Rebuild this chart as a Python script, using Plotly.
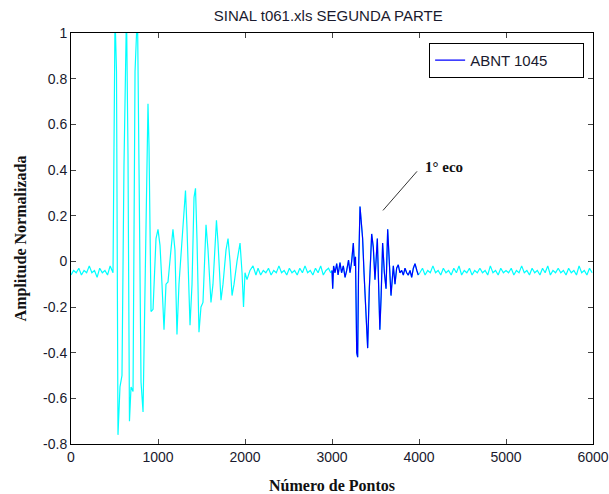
import plotly.graph_objects as go

# ---- data (sample index, normalized amplitude) ----
pre_x = [0, 30, 60, 90, 120, 150, 180, 210, 240, 270, 300, 330, 360, 390, 420, 450]
pre_y = [-0.06, -0.04, -0.05, -0.03, -0.06, -0.04, -0.05, -0.02, -0.05, -0.04,
         -0.07, -0.03, -0.05, -0.04, -0.06, -0.02]

burst_x = [483, 506, 523, 540, 563, 586, 609, 638, 655, 672, 690, 713, 736, 764, 782,
           805, 828, 862, 885, 897, 920, 943, 977, 1000, 1023, 1046, 1069, 1092, 1115,
           1149, 1172, 1195, 1218, 1241, 1276, 1299, 1316, 1333, 1368, 1391, 1414, 1431,
           1448, 1471, 1494, 1517, 1540, 1552, 1575, 1609, 1632, 1655, 1672, 1690, 1724,
           1747, 1782, 1805, 1828, 1851, 1874, 1908, 1943, 1966, 1983, 2000, 2023, 2057,
           2092, 2126]
burst_y = [-0.05, 1.08, 0.83, -0.76, -0.55, -0.50, 0.42, 1.10, 0.47, -0.70, -0.55, -0.57,
           0.83, 1.10, 0.40, -0.53, -0.66, 0.27, 0.69, 0.50, -0.22, -0.21, 0.10, 0.14,
           0.07, -0.10, -0.30, -0.10, -0.09, 0.05, 0.14, 0.05, -0.32, -0.10, 0.08, 0.23,
           0.31, 0.15, -0.28, -0.10, 0.28, 0.32, 0.10, -0.31, -0.20, -0.18, 0.10, 0.16,
           0.05, -0.18, -0.10, 0.10, 0.18, 0.08, -0.17, -0.10, 0.05, 0.10, 0.00, -0.15,
           -0.10, 0.00, 0.08, -0.05, -0.20, -0.05, -0.08, -0.04, -0.02, -0.06]

mid_x = [2150, 2180, 2210, 2240, 2270, 2300, 2330, 2360, 2390, 2420, 2450, 2480, 2510,
         2540, 2570, 2600, 2630, 2660, 2690, 2720, 2750, 2780, 2810, 2840, 2870, 2900,
         2930, 2960, 2985]
mid_y = [-0.03, -0.06, -0.04, -0.05, -0.03, -0.06, -0.04, -0.05, -0.02, -0.05, -0.04,
         -0.06, -0.03, -0.05, -0.04, -0.06, -0.03, -0.05, -0.02, -0.05, -0.04, -0.06,
         -0.03, -0.05, -0.02, -0.06, -0.04, -0.03, -0.05]

echo_x = [3000, 3008, 3018, 3035, 3054, 3070, 3092, 3110, 3130, 3150, 3169, 3190, 3207,
          3226, 3245, 3258, 3270, 3284, 3295, 3305, 3322, 3335, 3352, 3368, 3385, 3410,
          3429, 3456, 3475, 3494, 3521, 3535, 3550, 3565, 3582, 3602, 3621, 3640, 3659,
          3678, 3705, 3724, 3743, 3762, 3780, 3801, 3820, 3839, 3858, 3877, 3897, 3916,
          3935, 3954, 3975, 3992]
echo_y = [-0.04, -0.12, -0.02, -0.05, -0.01, -0.06, -0.005, -0.05, -0.02, -0.07, -0.04,
          0.005, -0.05, 0.00, 0.08, -0.02, 0.02, -0.40, -0.42, -0.05, 0.24, 0.18, 0.10,
          -0.05, -0.20, -0.38, -0.12, 0.12, 0.06, -0.08, 0.10, -0.05, -0.30, -0.15, 0.08,
          -0.05, -0.12, 0.14, -0.04, -0.15, -0.02, -0.10, -0.03, -0.015, -0.05, -0.04,
          -0.06, -0.03, -0.05, -0.06, -0.04, -0.07, -0.03, -0.01, -0.04, -0.06]

post_x = [4010, 4040, 4070, 4100, 4130, 4160, 4190, 4220, 4250, 4280,
          4310, 4340, 4370, 4400, 4430, 4460, 4490, 4520, 4550, 4580,
          4610, 4640, 4670, 4700, 4730, 4760, 4790, 4820, 4850, 4880,
          4910, 4940, 4970, 5000, 5030, 5060, 5090, 5120, 5150, 5180,
          5210, 5240, 5270, 5300, 5330, 5360, 5390, 5420, 5450, 5480,
          5510, 5540, 5570, 5600, 5630, 5660, 5690, 5720, 5750, 5780,
          5810, 5840, 5870, 5900, 5930, 5960, 5990]
post_y = [-0.05, -0.03, -0.06, -0.04, -0.05, -0.02, -0.05, -0.04, -0.06, -0.03,
          -0.05, -0.04, -0.06, -0.03, -0.05, -0.02, -0.06, -0.04, -0.05, -0.03,
          -0.06, -0.04, -0.05, -0.03, -0.05, -0.04, -0.06, -0.02, -0.05, -0.04,
          -0.06, -0.03, -0.05, -0.04, -0.05, -0.03, -0.06, -0.04, -0.05, -0.02,
          -0.05, -0.04, -0.06, -0.03, -0.05, -0.04, -0.06, -0.03, -0.05, -0.02,
          -0.06, -0.04, -0.05, -0.03, -0.05, -0.04, -0.06, -0.03, -0.05, -0.04,
          -0.06, -0.02, -0.05, -0.04, -0.06, -0.03, -0.05]

x_ticks = [0, 1000, 2000, 3000, 4000, 5000, 6000]
y_ticks = [-0.8, -0.6, -0.4, -0.2, 0, 0.2, 0.4, 0.6, 0.8, 1]
y_tick_text = ["-0.8", "-0.6", "-0.4", "-0.2", "0", "0.2", "0.4", "0.6", "0.8", "1"]

title_text = "SINAL t061.xls SEGUNDA PARTE"
legend_name = "ABNT 1045"
echo_label = "1° eco"
echo_arrow_from = (3586, 0.223)
echo_arrow_to = (3977, 0.394)
echo_text_pos = (4287, 0.415)

full_x = pre_x + burst_x + mid_x + echo_x + post_x
full_y = pre_y + burst_y + mid_y + echo_y + post_y

fig = go.Figure()
fig.add_trace(go.Scatter(x=full_x, y=full_y, mode="lines",
                         line=dict(color="#00FFFF", width=1.2),
                         showlegend=False, hoverinfo="skip"))
fig.add_trace(go.Scatter(x=echo_x, y=echo_y, mode="lines", name=legend_name,
                         line=dict(color="#0000FF", width=1.2)))

axis_font = dict(family="Liberation Sans, Arial, sans-serif", size=14, color="#1a1a2e")
legend_font = dict(family="Liberation Sans, Arial, sans-serif", size=15, color="#1a1a2e")
label_font = dict(family="Liberation Serif, Times New Roman, serif", size=16, color="#111111")

fig.update_layout(
    width=609, height=494,
    margin=dict(l=71, r=16, t=33, b=50),
    paper_bgcolor="white", plot_bgcolor="white",
    title=dict(text=title_text, x=0.539, xanchor="center", y=0.968, yanchor="middle",
               font=dict(family="Liberation Sans, Arial, sans-serif", size=15, color="#1a1a2e")),
    showlegend=True,
    legend=dict(x=0.983, xanchor="right", y=0.976, yanchor="top",
                orientation="h", entrywidth=108, entrywidthmode="pixels",
                bgcolor="white", bordercolor="black", borderwidth=1,
                font=legend_font),
    xaxis=dict(range=[0, 6000], tickvals=x_ticks, ticks="inside", ticklen=5,
               showline=True, linecolor="black", linewidth=1, mirror="ticks",
               showgrid=False, zeroline=False, tickfont=axis_font, automargin=False,
               ticklabeloverflow="allow",
               title=dict(text="<b>Número de Pontos</b>", font=label_font, standoff=18)),
    yaxis=dict(range=[-0.8, 1], tickvals=y_ticks, ticktext=y_tick_text, ticks="inside",
               ticklen=5, showline=True, linecolor="black", linewidth=1, mirror="ticks",
               showgrid=False, zeroline=False, tickfont=axis_font, automargin=False,
               title=dict(text="<b>Amplitude Normalizada</b>", font=label_font, standoff=12)),
)

fig.add_shape(type="line", xref="x", yref="y",
              x0=echo_arrow_from[0], y0=echo_arrow_from[1],
              x1=echo_arrow_to[0], y1=echo_arrow_to[1],
              line=dict(color="#333333", width=1))
fig.add_annotation(x=echo_text_pos[0], y=echo_text_pos[1], xref="x", yref="y",
                   text="<b>" + echo_label + "</b>", showarrow=False,
                   font=dict(family="Liberation Serif, Times New Roman, serif", size=15,
                             color="#111111"))

fig.write_html("out.html",
               config={"displayModeBar": False},
               post_script="document.body.style.margin='0';document.body.style.overflow='hidden';")
